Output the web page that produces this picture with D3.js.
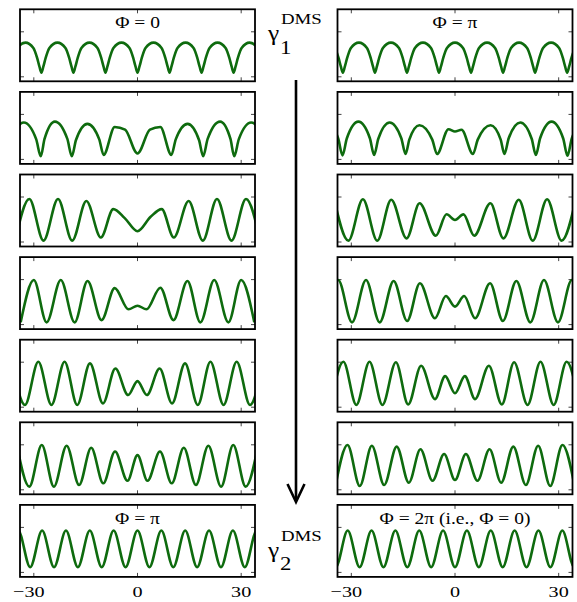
<!DOCTYPE html>
<html>
<head>
<meta charset="utf-8">
<script src="https://cdn.jsdelivr.net/npm/d3@7"></script>
<style>
  body { margin: 0; background: #fff; }
</style>
</head>
<body>
<svg id="fig" width="577" height="602" font-family="Liberation Serif, DejaVu Serif, serif"></svg>
<script>
// Density profiles along x, one list of [x, value] knots per panel.
// Left column: Φ = 0 → Φ = π ; right column: Φ = π → Φ = 2π.
const left1 = [
  [-37.1,0.09],[-36.53,0.224],[-35.83,0.425],[-34.77,0.64],[-32.45,0.76],[-30.13,0.64],[-29.07,0.425],[-28.37,0.224],
  [-27.8,0.09],[-27.25,0.224],[-26.55,0.425],[-25.49,0.64],[-23.17,0.76],[-20.85,0.64],[-19.79,0.425],[-19.09,0.224],
  [-18.54,0.09],[-17.98,0.224],[-17.28,0.425],[-16.22,0.64],[-13.9,0.76],[-11.58,0.64],[-10.52,0.425],[-9.82,0.224],
  [-9.27,0.09],[-8.72,0.224],[-8.02,0.425],[-6.96,0.64],[-4.64,0.76],[-2.32,0.64],[-1.26,0.425],[-0.56,0.224],
  [0,0.09],[0.56,0.224],[1.26,0.425],[2.32,0.64],[4.64,0.76],[6.96,0.64],[8.02,0.425],[8.72,0.224],
  [9.27,0.09],[9.82,0.224],[10.52,0.425],[11.58,0.64],[13.9,0.76],[16.22,0.64],[17.28,0.425],[17.98,0.224],
  [18.54,0.09],[19.09,0.224],[19.79,0.425],[20.85,0.64],[23.17,0.76],[25.49,0.64],[26.55,0.425],[27.25,0.224],
  [27.8,0.09],[28.37,0.224],[29.07,0.425],[30.13,0.64],[32.45,0.76],[34.77,0.64],[35.83,0.425],[36.53,0.224],[37.1,0.09]
];
const left2 = [
  [-37.7,0.07],[-36.4,0.445],[-32.9,0.82],[-29.3,0.445],[-28.0,0.07],[-26.9,0.455],[-23.9,0.84],[-20.3,0.455],
  [-19.0,0.07],[-17.8,0.43],[-14.5,0.79],[-11.07,0.445],[-9.8,0.10],[-6.6,0.72],[-3.6,0.66],[0,0.13],
  [3.6,0.66],[6.6,0.72],[9.8,0.10],[11.07,0.445],[14.5,0.79],[17.8,0.43],[19.0,0.07],[20.3,0.455],
  [23.9,0.84],[26.9,0.455],[28.0,0.07],[29.3,0.445],[32.9,0.82],[36.4,0.445],[37.7,0.07]
];
const left3 = [
  [-35.4,0.03],[-31.3,0.956],[-27.2,0.03],[-23.0,0.956],[-18.9,0.03],[-14.8,0.91],
  [-10.6,0.10],[-7.0,0.73],[-3.7,0.53],[0,0.24],[3.8,0.56],[7.0,0.73],[10.5,0.10],
  [14.8,0.91],[18.9,0.03],[23.0,0.956],[27.2,0.03],[31.4,0.956],[35.5,0.03]
];
const left4 = [
  [-33.8,0.05],[-30.0,0.99],[-26.3,0.05],[-22.2,0.99],[-18.2,0.05],[-14.45,0.97],
  [-10.4,0.10],[-6.6,0.81],[-2.6,0.34],[0,0.42],[2.6,0.34],[6.6,0.82],[10.4,0.10],
  [14.45,0.97],[18.2,0.05],[22.2,0.99],[26.3,0.05],[30.0,0.99],[33.8,0.05]
];
const left5 = [
  [-36.4,1.0],[-32.55,0.05],[-28.7,1.01],[-24.9,0.05],[-21.1,1.01],[-17.45,0.05],
  [-13.75,0.975],[-10.0,0.085],[-6.4,0.86],[-2.7,0.27],[0,0.58],[2.7,0.27],[6.4,0.86],
  [10.0,0.085],[13.75,0.975],[17.45,0.05],[21.1,1.01],[24.9,0.05],[28.7,1.01],
  [32.55,0.05],[36.4,1.0]
];
const left6 = [
  [-34.9,0.99],[-31.3,0.07],[-27.7,0.995],[-24.2,0.07],[-20.5,0.98],[-16.9,0.107],
  [-13.4,0.935],[-9.9,0.144],[-6.5,0.85],[-2.9,0.2],[0,0.77],[2.9,0.2],[6.5,0.85],
  [9.9,0.144],[13.4,0.935],[16.9,0.107],[20.5,0.98],[24.2,0.07],[27.7,0.995],
  [31.3,0.07],[34.9,0.99]
];
const left7 = [
  [-37.95,0.115],[-34.5,0.93],[-31.05,0.115],[-27.6,0.93],[-24.15,0.115],[-20.7,0.93],
  [-17.25,0.115],[-13.8,0.93],[-10.35,0.115],[-6.9,0.93],[-3.45,0.115],[0,0.93],
  [3.45,0.115],[6.9,0.93],[10.35,0.115],[13.8,0.93],[17.25,0.115],[20.7,0.93],
  [24.15,0.115],[27.6,0.93],[31.05,0.115],[34.5,0.93],[37.95,0.115]
];

const right1 = [
  [-37.1,0.76],[-34.78,0.64],[-33.72,0.425],[-33.02,0.224],[-32.45,0.09],[-31.88,0.224],[-31.18,0.425],[-30.12,0.64],
  [-27.8,0.76],[-25.48,0.64],[-24.42,0.425],[-23.72,0.224],[-23.17,0.09],[-22.62,0.224],[-21.92,0.425],[-20.86,0.64],
  [-18.54,0.76],[-16.22,0.64],[-15.16,0.425],[-14.46,0.224],[-13.9,0.09],[-13.35,0.224],[-12.65,0.425],[-11.59,0.64],
  [-9.27,0.76],[-6.95,0.64],[-5.89,0.425],[-5.19,0.224],[-4.64,0.09],[-4.08,0.224],[-3.38,0.425],[-2.32,0.64],
  [0,0.76],[2.32,0.64],[3.38,0.425],[4.08,0.224],[4.64,0.09],[5.19,0.224],[5.89,0.425],[6.95,0.64],
  [9.27,0.76],[11.59,0.64],[12.65,0.425],[13.35,0.224],[13.9,0.09],[14.46,0.224],[15.16,0.425],[16.22,0.64],
  [18.54,0.76],[20.86,0.64],[21.92,0.425],[22.62,0.224],[23.17,0.09],[23.72,0.224],[24.42,0.425],[25.48,0.64],
  [27.8,0.76],[30.12,0.64],[31.18,0.425],[31.88,0.224],[32.45,0.09],[33.02,0.224],[33.72,0.425],[34.78,0.64],[37.1,0.76]
];
const right2 = [
  [-37.2,0.84],[-33.8,0.465],[-32.55,0.09],[-31.31,0.465],[-27.95,0.84],[-24.63,0.47],[-23.4,0.10],[-22.19,0.46],
  [-18.9,0.82],[-15.54,0.47],[-14.3,0.12],[-13.22,0.44],[-10.3,0.76],[-6.58,0.44],[-5.2,0.12],
  [-1.9,0.67],[0,0.62],[1.9,0.66],
  [5.2,0.12],[6.58,0.44],[10.3,0.76],[13.22,0.44],[14.3,0.12],[15.54,0.47],[18.9,0.82],
  [22.19,0.46],[23.4,0.10],[24.63,0.47],[27.95,0.84],[31.31,0.465],[32.55,0.08],[33.8,0.465],[37.2,0.84]
];
const right3 = [
  [-35.0,0.96],[-30.85,0.03],[-26.65,0.95],[-22.5,0.03],[-18.45,0.94],[-14.0,0.08],
  [-10.25,0.86],[-5.55,0.14],[-2.45,0.615],[0,0.49],[2.45,0.615],[5.55,0.14],
  [10.25,0.86],[14.0,0.08],[18.45,0.94],[22.5,0.03],[26.65,0.95],[30.85,0.03],[35.0,0.96]
];
const right4 = [
  [-37.8,0.05],[-33.8,0.99],[-29.8,0.05],[-25.75,0.99],[-21.8,0.05],[-17.75,0.97],
  [-13.85,0.08],[-10.15,0.92],[-5.8,0.14],[-2.65,0.635],[0,0.40],[2.65,0.635],
  [5.8,0.14],[10.15,0.92],[13.85,0.08],[17.75,0.97],[21.8,0.05],[25.75,0.99],
  [29.8,0.05],[33.8,0.99],[37.8,0.05]
];
const right5 = [
  [-36.0,0.05],[-32.3,1.01],[-28.55,0.05],[-24.74,1.01],[-21.0,0.05],[-17.1,1.0],
  [-13.55,0.06],[-9.8,0.92],[-5.8,0.18],[-2.85,0.69],[0,0.31],[2.85,0.69],[5.8,0.18],
  [9.8,0.92],[13.55,0.06],[17.1,1.0],[21.0,0.05],[24.74,1.01],[28.55,0.05],
  [32.3,1.01],[36.0,0.05]
];
const right6 = [
  [-34.6,0.08],[-31.1,0.995],[-27.55,0.084],[-24.06,0.98],[-20.5,0.107],[-16.87,0.96],
  [-13.36,0.158],[-10.0,0.9],[-6.5,0.2],[-3.15,0.795],[0,0.218],[3.15,0.795],[6.5,0.2],
  [10.0,0.9],[13.36,0.158],[16.87,0.96],[20.5,0.107],[24.06,0.98],[27.55,0.084],
  [31.1,0.995],[34.6,0.08]
];
const right7 = [
  [-37.95,0.93],[-34.5,0.115],[-31.05,0.93],[-27.6,0.115],[-24.15,0.93],[-20.7,0.115],
  [-17.25,0.93],[-13.8,0.115],[-10.35,0.93],[-6.9,0.115],[-3.45,0.93],[0,0.115],
  [3.45,0.93],[6.9,0.115],[10.35,0.93],[13.8,0.115],[17.25,0.93],[20.7,0.115],
  [24.15,0.93],[27.6,0.115],[31.05,0.93],[34.5,0.115],[37.95,0.93]
];

const leftPanels = [left1, left2, left3, left4, left5, left6, left7];
const rightPanels = [right1, right2, right3, right4, right5, right6, right7];

const xDomain = [-34, 34];
const yDomain = [-0.1, 1.5];
const xTicks = [-30, 0, 30];
const yTicks = [0, 1];
const xTickLabels = ["\u221230", "0", "30"];

const leftTitles = ["\u03A6 = 0", "", "", "", "", "", "\u03A6 = \u03C0"];
const rightTitles = ["\u03A6 = \u03C0", "", "", "", "", "", "\u03A6 = 2\u03C0 (i.e., \u03A6 = 0)"];

const svg = d3.select("#fig");
const serif = "Liberation Serif, DejaVu Serif, serif";

// ---- layout ----
const panelW = 235, panelH = 72, rowStep = 82.6, firstTop = 9.3;
const columns = [
  { x0: 20,    panels: leftPanels,  titles: leftTitles },
  { x0: 337.5, panels: rightPanels, titles: rightTitles }
];
const lineColor = "#0e6b0e";

// text is set slightly wide (horizontal stretch sx) as in the printed figure
function addText(parent, x, y, size, str, anchor, sx) {
  return parent.append("text")
    .attr("transform", `translate(${x},${y}) scale(${sx || 1.25},1)`)
    .attr("text-anchor", anchor || "start")
    .attr("font-family", serif)
    .attr("font-size", size)
    .attr("fill", "#000")
    .text(str);
}

columns.forEach((col, ci) => {
  col.panels.forEach((data, ri) => {
    const y0 = firstTop + ri * rowStep;
    const x = d3.scaleLinear().domain(xDomain).range([col.x0, col.x0 + panelW]);
    const y = d3.scaleLinear().domain(yDomain).range([y0 + panelH, y0]);
    const g = svg.append("g");
    const clipId = `clip-${ci}-${ri}`;
    g.append("clipPath").attr("id", clipId)
      .append("rect").attr("x", col.x0).attr("y", y0).attr("width", panelW).attr("height", panelH);

    // ticks, drawn inward on all four sides
    const tk = g.append("g").attr("stroke", "#444").attr("stroke-width", 1);
    xTicks.forEach(t => {
      tk.append("line").attr("x1", x(t)).attr("x2", x(t)).attr("y1", y0).attr("y2", y0 + 4);
      tk.append("line").attr("x1", x(t)).attr("x2", x(t)).attr("y1", y0 + panelH).attr("y2", y0 + panelH - 4);
    });
    yTicks.forEach(t => {
      tk.append("line").attr("x1", col.x0).attr("x2", col.x0 + 4).attr("y1", y(t)).attr("y2", y(t));
      tk.append("line").attr("x1", col.x0 + panelW).attr("x2", col.x0 + panelW - 4).attr("y1", y(t)).attr("y2", y(t));
    });

    const line = d3.line().x(d => x(d[0])).y(d => y(d[1])).curve(d3.curveMonotoneX);
    g.append("path").datum(data)
      .attr("clip-path", `url(#${clipId})`)
      .attr("d", line)
      .attr("fill", "none")
      .attr("stroke", lineColor)
      .attr("stroke-width", 2.6)
      .attr("stroke-linejoin", "round");

    g.append("rect").attr("x", col.x0).attr("y", y0).attr("width", panelW).attr("height", panelH)
      .attr("fill", "none").attr("stroke", "#000").attr("stroke-width", 1.8);

    if (col.titles[ri]) {
      addText(g, col.x0 + panelW / 2, y0 + 19, 16, col.titles[ri], "middle", 1.22);
    }

    if (ri === col.panels.length - 1) {
      xTicks.forEach((t, i) => {
        addText(g, x(t) + (t < 0 ? -5 : 0), 596.5, 15.5, xTickLabels[i], "middle", 1.3);
      });
    }
  });
});

// ---- middle annotation: γ1 → γ2 with arrow ----
function gammaLabel(sub, dmsBase) {
  addText(svg, 281, dmsBase, 14.5, "DMS", "start", 1.3);
  addText(svg, 268, dmsBase + 16, 22, "\u03B3", "start", 1.15);
  addText(svg, 280, dmsBase + 29.5, 19, sub, "start", 1.2);
}
gammaLabel("1", 24);
gammaLabel("2", 540.5);

svg.append("line").attr("x1", 296).attr("x2", 296).attr("y1", 80).attr("y2", 501)
  .attr("stroke", "#000").attr("stroke-width", 2.6);
svg.append("polyline").attr("points", "287.5,484 296,502 304.5,484")
  .attr("fill", "none").attr("stroke", "#000").attr("stroke-width", 2.6);
</script>
</body>
</html>
